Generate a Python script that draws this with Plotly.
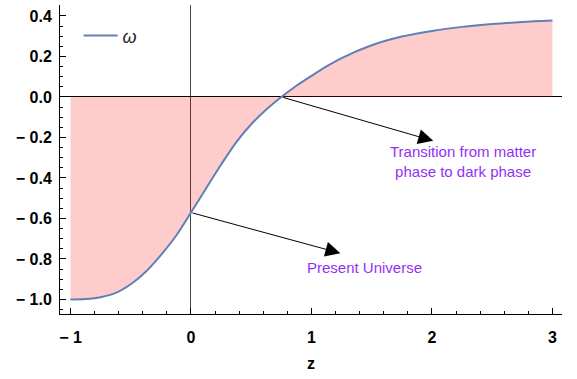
import plotly.graph_objects as go

# values
z_vals = [-1.0, -0.875, -0.75, -0.625, -0.5, -0.375, -0.25, -0.125, 0.0,
          0.125, 0.25, 0.375, 0.5, 0.625, 0.75, 0.875, 1.0, 1.125, 1.25,
          1.5, 1.75, 2.0, 2.25, 2.5, 2.75, 3.0]
omega_vals = [-1.0, -0.998, -0.989, -0.968, -0.925, -0.863, -0.781, -0.687, -0.571,
              -0.452, -0.334, -0.224, -0.135, -0.062, 0.0, 0.055, 0.104, 0.151, 0.192,
              0.255, 0.298, 0.326, 0.346, 0.36, 0.37, 0.377]

x_ticks = [-1, 0, 1, 2, 3]
x_labels = ['\u2212 1', '0', '1', '2', '3']
y_ticks = [-1.0, -0.8, -0.6, -0.4, -0.2, 0.0, 0.2, 0.4]
y_labels = ['\u2212 1.0', '\u2212 0.8', '\u2212 0.6', '\u2212 0.4', '\u2212 0.2', '0.0', '0.2', '0.4']

transition_pt = (0.75, 0.0)
transition_head = (2.01, -0.217)
present_pt = (0.0, -0.571)
present_head = (1.24, -0.772)

xr = [-1.087, 3.079]
yr = [-1.072, 0.454]

curve_col = '#5E81B5'
text_col = '#9430F5'
tick_font = dict(family='Liberation Sans, Arial', size=16, color='black', weight='bold')
note_font = dict(family='Liberation Sans, Arial', size=15, color=text_col)

fig = go.Figure()

# filling to axis
fig.add_trace(go.Scatter(
    x=z_vals, y=omega_vals, mode='lines', fill='tozeroy',
    fillcolor='rgba(255,0,0,0.2)', line=dict(width=0, shape='spline', smoothing=0.8),
    showlegend=False, hoverinfo='skip'))

fig.add_trace(go.Scatter(
    x=z_vals, y=omega_vals, mode='lines', name='<i>ω</i>',
    line=dict(color=curve_col, width=2, shape='spline', smoothing=0.8)))

fig.add_annotation(x=transition_head[0], y=transition_head[1],
                   ax=transition_pt[0], ay=transition_pt[1],
                   axref='x', ayref='y', text='', showarrow=True,
                   arrowhead=2, arrowsize=3, arrowwidth=1, arrowcolor='black')
fig.add_annotation(x=present_head[0], y=present_head[1],
                   ax=present_pt[0], ay=present_pt[1],
                   axref='x', ayref='y', text='', showarrow=True,
                   arrowhead=2, arrowsize=3, arrowwidth=1, arrowcolor='black')

fig.add_annotation(x=2.26, y=-0.32, text='Transition from matter<br>phase to dark phase',
                   showarrow=False, align='center', font=note_font)
fig.add_annotation(x=1.44, y=-0.84, text='Present Universe', showarrow=False,
                   font=note_font)

fig.update_layout(
    width=577, height=379,
    margin=dict(l=60, r=15, t=5, b=65),
    plot_bgcolor='white', paper_bgcolor='white',
    showlegend=True,
    legend=dict(x=0.037, y=0.9, xanchor='left', yanchor='middle',
                bgcolor='rgba(0,0,0,0)', itemwidth=34,
                font=dict(family='Liberation Sans, Arial', size=18, color='#222')),
    xaxis=dict(
        range=xr, tickvals=x_ticks, ticktext=x_labels, ticks='inside', ticklen=6,
        tickcolor='black', automargin=False,
        minor=dict(dtick=0.2, ticks='inside', ticklen=3, tickcolor='black'),
        showline=True, linecolor='black', linewidth=1,
        showgrid=False, zeroline=True, zerolinecolor='#444', zerolinewidth=1,
        tickfont=tick_font, ticklabelstandoff=9,
        title=dict(text='z', font=dict(family='Liberation Sans, Arial', size=16,
                                       color='black', weight='bold'), standoff=12)),
    yaxis=dict(
        range=yr, tickvals=y_ticks, ticktext=y_labels, ticks='inside', ticklen=6,
        tickcolor='black', automargin=False,
        minor=dict(dtick=0.05, ticks='inside', ticklen=3, tickcolor='black'),
        showline=True, linecolor='black', linewidth=1,
        showgrid=False, zeroline=True, zerolinecolor='black', zerolinewidth=1,
        tickfont=tick_font, ticklabelstandoff=4),
    xaxis2=dict(
        overlaying='x', side='top', anchor='y', range=xr, tickvals=x_ticks,
        ticks='inside', ticklen=6, tickcolor='#777', automargin=False,
        minor=dict(dtick=0.2, ticks='inside', ticklen=3, tickcolor='#777'),
        showline=True, linecolor='#888', showticklabels=False,
        showgrid=False, zeroline=False),
    yaxis2=dict(
        overlaying='y', side='right', anchor='x', range=yr, tickvals=y_ticks,
        ticks='inside', ticklen=6, tickcolor='#777', automargin=False,
        minor=dict(dtick=0.05, ticks='inside', ticklen=3, tickcolor='#777'),
        showline=True, linecolor='#888', showticklabels=False,
        showgrid=False, zeroline=False),
)

# drop the default page margin so the figure sits at the window's corner
fig.write_html("out.html", config={'displayModeBar': False},
               post_script="document.body.style.margin = '0';")
